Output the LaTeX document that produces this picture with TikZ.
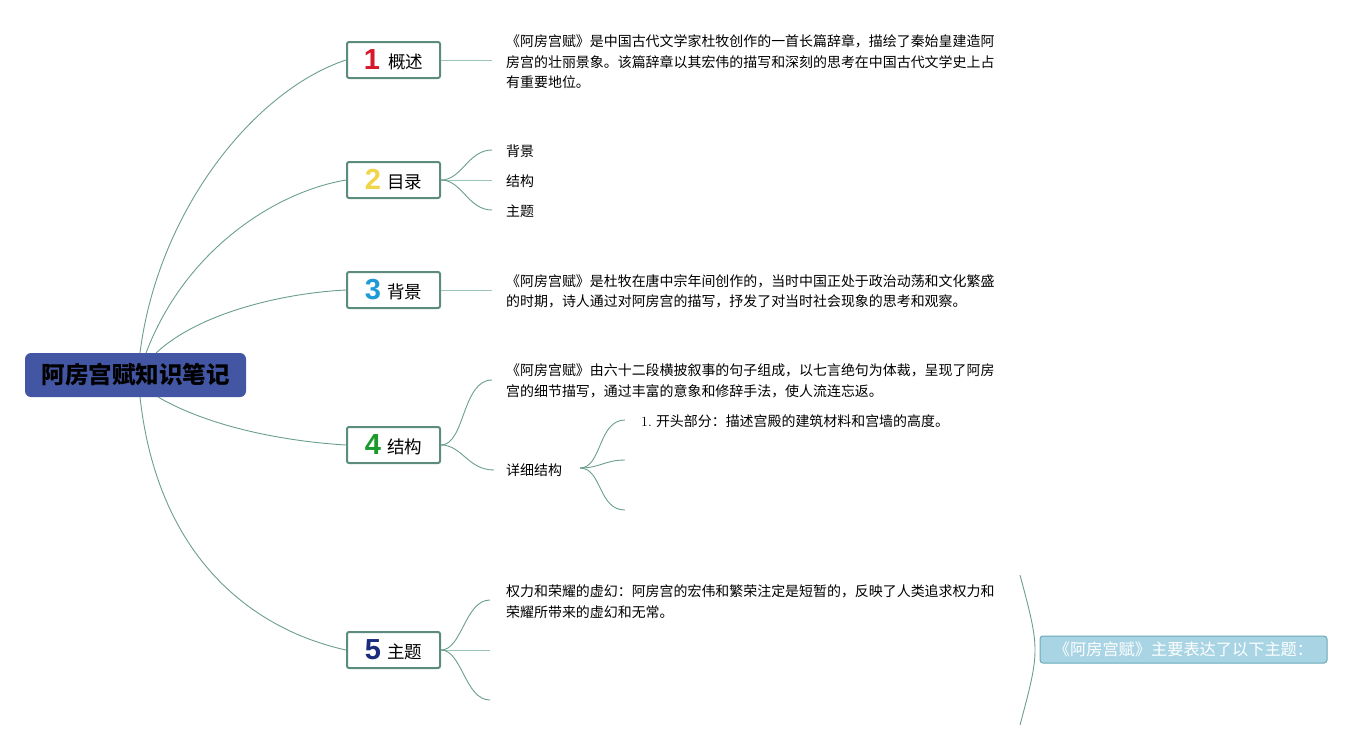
\documentclass[tikz,border=0pt]{standalone}
\usepackage{fontspec}
\setmainfont{Noto Sans CJK SC}
\newfontfamily\numfont{Liberation Sans}
\newfontfamily\serifnum{Latin Modern Roman}
\definecolor{linec}{HTML}{6A9E8E}
\definecolor{lightlinec}{HTML}{9CC4B8}
\definecolor{boxc}{HTML}{5B8C7E}
\definecolor{rootc}{HTML}{4356A3}
\definecolor{n1}{HTML}{D7182A}
\definecolor{n2}{HTML}{F0D44A}
\definecolor{n3}{HTML}{1E9AD6}
\definecolor{n4}{HTML}{1A9A2A}
\definecolor{n5}{HTML}{1C2C7C}
\definecolor{themefill}{HTML}{A8D4E4}
\definecolor{themeborder}{HTML}{6AAAB8}
\tikzset{
  branchbox/.style={draw=boxc, line width=2pt, rounded corners=2pt, fill=white, minimum width=93pt, minimum height=36pt, inner sep=0pt, font=\fontsize{17.5}{20}\selectfont},
  conn/.style={draw=linec, line width=0.9pt},
  lconn/.style={draw=lightlinec, line width=1pt},
  bodytext/.style={anchor=west, align=left, inner sep=0pt, font=\fontsize{13.95}{20.5}\selectfont},
}
\newcommand{\numlabel}[2]{\raisebox{-1pt}{\numfont\bfseries\fontsize{29}{29}\selectfont\color{#1}#2}}
\begin{document}
\begin{tikzpicture}[x=1pt,y=-1pt]
\useasboundingbox (0,0) rectangle (1372,750);

% root
\node[fill=rootc, rounded corners=6pt, minimum width=221pt, minimum height=44pt, inner sep=0pt, font=\bfseries\fontsize{23.5}{24}\selectfont] (root) at (135.5,375) {阿房宫赋知识笔记};

% branch boxes
\node[branchbox] (b1) at (393.5,60) {\numlabel{n1}{1}\hspace{8pt}概述};
\node[branchbox] (b2) at (393.5,180) {\numlabel{n2}{2}\hspace{6pt}目录};
\node[branchbox] (b3) at (393.5,290) {\numlabel{n3}{3}\hspace{6pt}背景};
\node[branchbox] (b4) at (393.5,445) {\numlabel{n4}{4}\hspace{6pt}结构};
\node[branchbox] (b5) at (393.5,650) {\numlabel{n5}{5}\hspace{6pt}主题};

% root to branches
\coordinate (r1) at (140,353);
\coordinate (r2) at (146,353);
\coordinate (r3) at (156,353);
\coordinate (r4) at (158,397);
\coordinate (r5) at (140,397);
\draw[conn] (r1) .. controls (158,210) and (255,90) .. (b1.west);
\draw[conn] (r2) .. controls (185,250) and (275,192) .. (b2.west);
\draw[conn] (r3) .. controls (200,312) and (285,293) .. (b3.west);
\draw[conn] (r4) .. controls (215,430) and (295,442) .. (b4.west);
\draw[conn] (r5) .. controls (158,560) and (255,630) .. (b5.west);

% branch 1
\coordinate (e1) at (492,60);
\draw[lconn] (b1.east) -- (e1);
\node[bodytext] (t1) at (506,62) {《阿房宫赋》是中国古代文学家杜牧创作的一首长篇辞章，描绘了秦始皇建造阿\\房宫的壮丽景象。该篇辞章以其宏伟的描写和深刻的思考在中国古代文学史上占\\有重要地位。};

% branch 2
\node[bodytext] (t21) at (506,151) {背景};
\node[bodytext] (t22) at (506,181) {结构};
\node[bodytext] (t23) at (506,211) {主题};
\coordinate (e21) at (492,150);
\coordinate (e22) at (492,180);
\coordinate (e23) at (492,210);
\draw[conn] (b2.east) .. controls (462,180) and (468,150) .. (e21);
\draw[lconn] (b2.east) -- (e22);
\draw[conn] (b2.east) .. controls (462,180) and (468,210) .. (e23);

% branch 3
\coordinate (e3) at (492,290);
\draw[lconn] (b3.east) -- (e3);
\node[bodytext] (t3) at (506,291.5) {《阿房宫赋》是杜牧在唐中宗年间创作的，当时中国正处于政治动荡和文化繁盛\\的时期，诗人通过对阿房宫的描写，抒发了对当时社会现象的思考和观察。};

% branch 4
\node[bodytext] (t41) at (506,381) {《阿房宫赋》由六十二段横披叙事的句子组成，以七言绝句为体裁，呈现了阿房\\宫的细节描写，通过丰富的意象和修辞手法，使人流连忘返。};
\node[bodytext] (t42) at (506,470) {详细结构};
\coordinate (e41) at (492,380);
\coordinate (e42) at (494,470);
\draw[conn] (b4.east) .. controls (465,445) and (462,380) .. (e41);
\draw[conn] (b4.east) .. controls (462,445) and (468,470) .. (e42);
\coordinate (d0) at (580,468);
\coordinate (d1) at (625,420);
\coordinate (d2) at (625,460);
\coordinate (d3) at (625,510);
\draw[conn] (d0) .. controls (602,468) and (598,420) .. (d1);
\draw[conn] (d0) .. controls (600,468) and (605,460) .. (d2);
\draw[conn] (d0) .. controls (602,468) and (598,510) .. (d3);
\node[bodytext] (t43) at (641,421) {{\serifnum 1.} 开头部分：描述宫殿的建筑材料和宫墙的高度。};

% branch 5
\node[bodytext] (t5) at (506,601.5) {权力和荣耀的虚幻：阿房宫的宏伟和繁荣注定是短暂的，反映了人类追求权力和\\荣耀所带来的虚幻和无常。};
\coordinate (e51) at (490,600);
\coordinate (e52) at (490,650);
\coordinate (e53) at (490,700);
\draw[conn] (b5.east) .. controls (462,650) and (465,600) .. (e51);
\draw[lconn] (b5.east) -- (e52);
\draw[conn] (b5.east) .. controls (462,650) and (465,700) .. (e53);

% bracket and theme summary
\coordinate (k1) at (1020,575);
\coordinate (k2) at (1020,725);
\draw[conn] (k1) .. controls (1040,650) .. (k2);
\node[draw=themeborder, fill=themefill, rounded corners=3pt, line width=1pt, minimum width=287pt, minimum height=27pt, inner sep=0pt, text=white, font=\fontsize{16.2}{17}\selectfont] (theme) at (1183.5,649.5) {《阿房宫赋》主要表达了以下主题：};
\end{tikzpicture}
\end{document}
